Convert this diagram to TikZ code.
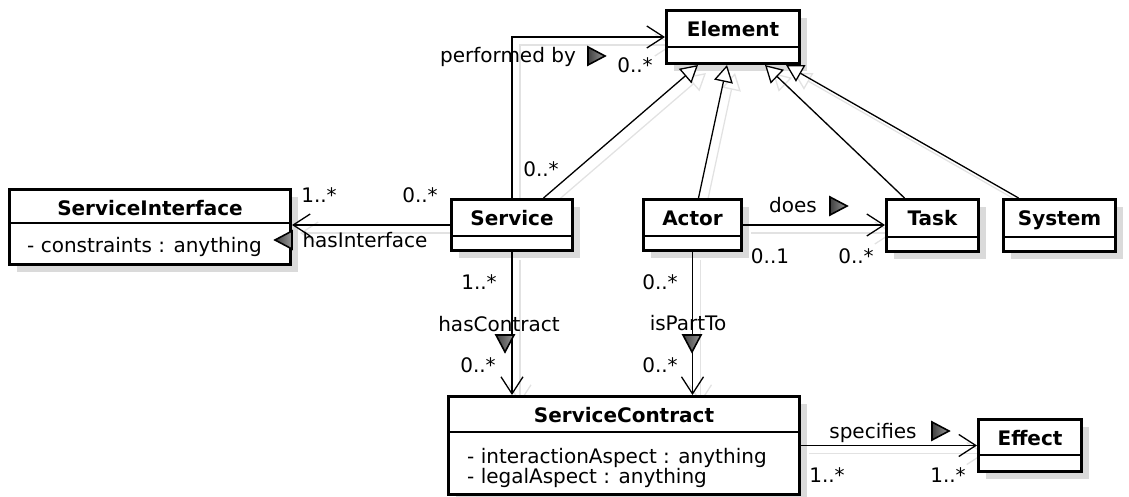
\documentclass[tikz,border=0pt]{standalone}
\usepackage{fontspec}
\setmainfont{DejaVu Sans}
\usetikzlibrary{arrows.meta,calc}
\pgfdeclarelayer{shadow}
\pgfsetlayers{shadow,main}

\definecolor{boxshade}{HTML}{DADADA}
\definecolor{lineshade}{HTML}{E2E2E2}

% class box: name, left, top, right, bottom, divider
\newcommand\umlclass[6]{%
  \begin{pgfonlayer}{shadow}
    \fill[boxshade] (#2+9,#3+9) rectangle (#4+9,#5+9);
  \end{pgfonlayer}
  \node[classbox, minimum width=#4-#2, minimum height=#5-#3] (#1) at (#2,#3) {};
  \draw[divider] (#2,#6) -- (#4,#6);
}
% reading-direction marks
\newcommand\dirright[2]{\shadedraw[dirmark] (#1-8,#2-9) -- (#1+9,#2) -- (#1-8,#2+9) -- cycle;}
\newcommand\dirleft[2]{\shadedraw[dirmark] (#1+8,#2-9) -- (#1-9,#2) -- (#1+8,#2+9) -- cycle;}
\newcommand\dirdown[2]{\shadedraw[dirmark] (#1-9,#2-8) -- (#1,#2+9) -- (#1+9,#2-8) -- cycle;}

\begin{document}
\begin{tikzpicture}[x=1pt,y=-1pt,
  txt/.style={font=\fontsize{20}{17}\selectfont, inner sep=0pt, anchor=base},
  cname/.style={font=\fontsize{20}{17}\selectfont\bfseries, inner sep=0pt, anchor=base},
  attr/.style={font=\fontsize{20}{17}\selectfont, inner sep=0pt, anchor=base west},
  classbox/.style={draw=black, line width=3pt, fill=white, anchor=north west, inner sep=0pt},
  divider/.style={line width=1.3pt},
  link/.style={line width=1.3pt, draw=black},
  shade/.style={line width=1.3pt, draw=lineshade},
  nav/.style={-{Straight Barb[length=17pt,width=22pt,line width=1.3pt]}},
  gen/.style={-{Triangle[open,length=17pt,width=19pt,line width=1.3pt,fill=white]}},
  dirmark/.style={draw=black, line width=1.6pt, left color=black!75, right color=black!40, line join=miter}
]
\useasboundingbox (0,0) rectangle (1129,497);

% ---------- classes ----------
\umlclass{element}{665}{9}{798}{62}{47}
\umlclass{iface}{8}{188}{289}{263}{223}
\umlclass{service}{450}{198}{571}{249}{236}
\umlclass{actor}{642}{198}{740}{249}{236}
\umlclass{task}{885}{198}{977}{250}{237}
\umlclass{system}{1002}{198}{1114}{250}{237}
\umlclass{contract}{447}{395}{798}{493}{432}
\umlclass{effect}{977}{418}{1080}{470}{455}

\node[cname] (elementT) at ($(element.north)+(0,28)$) {Element};
\node[cname] (ifaceT) at ($(iface.north)+(0,27)$) {ServiceInterface};
\node[attr] (ifaceA) at (27,252) {- constraints : anything};
\node[cname] (serviceT) at ($(service.north)+(0,27)$) {Service};
\node[cname] (actorT) at ($(actor.north)+(0,27)$) {Actor};
\node[cname] (taskT) at ($(task.north)+(0,27)$) {Task};
\node[cname] (systemT) at ($(system.north)+(0,27)$) {System};
\node[cname] (contractT) at ($(contract.north)+(0,27)$) {ServiceContract};
\node[attr] (contractA1) at (467,463) {- interactionAspect : anything};
\node[attr] (contractA2) at (467,483) {- legalAspect : anything};
\node[cname] (effectT) at ($(effect.north)+(0,27)$) {Effect};

% ---------- end points ----------
\coordinate (gS1) at ($(service.north)+(31.5,0)$);
\coordinate (gE1) at ($(element.south west)+(33,0)$);
\coordinate (gS2) at ($(actor.north)+(6,0)$);
\coordinate (gE2) at ($(element.south west)+(62,0)$);
\coordinate (gS3) at ($(task.north)+(-28,0)$);
\coordinate (gE3) at ($(element.south west)+(100,0)$);
\coordinate (gS4) at ($(system.north)+(-41,0)$);
\coordinate (gE4) at ($(element.south west)+(121,0)$);

% ---------- connector shadows ----------
\begin{pgfonlayer}{shadow}
  \draw[shade,nav] ($(service.north)+(8,8)$) |- ($(element.west)+(8,8)$);
  \draw[shade,nav] ($(service.west)+(8,8)$) -- ($(service.west -| iface.east)+(8,8)$);
  \draw[shade,nav] ($(service.south)+(8,8)$) -- ($(service.south |- contract.north)+(8,8)$);
  \draw[shade,nav] ($(actor.south)+(8,8)$) -- ($(actor.south |- contract.north)+(8,8)$);
  \draw[shade,nav] ($(actor.east)+(8,8)$) -- ($(actor.east -| task.west)+(8,8)$);
  \draw[shade,nav] ($(contract.east)+(8,8)$) -- ($(contract.east -| effect.west)+(8,8)$);
  \draw[shade,gen] ($(gS1)+(8,8)$) -- ($(gE1)+(8,8)$);
  \draw[shade,gen] ($(gS2)+(8,8)$) -- ($(gE2)+(8,8)$);
  \draw[shade,gen] ($(gS3)+(8,8)$) -- ($(gE3)+(8,8)$);
  \draw[shade,gen] ($(gS4)+(8,8)$) -- ($(gE4)+(8,8)$);
\end{pgfonlayer}

% ---------- generalizations ----------
\draw[link,gen] (gS1) -- (gE1);
\draw[link,gen] (gS2) -- (gE2);
\draw[link,gen] (gS3) -- (gE3);
\draw[link,gen] (gS4) -- (gE4);

% ---------- associations ----------
\draw[link,nav] (service.north) |- (element.west);
\draw[link,nav] (service.west) -- (service.west -| iface.east);
\draw[link,nav] (service.south) -- (service.south |- contract.north);
\draw[link,nav] (actor.south) -- (actor.south |- contract.north);
\draw[link,nav] (actor.east) -- (actor.east -| task.west);
\draw[link,nav] (contract.east) -- (contract.east -| effect.west);

% ---------- association labels ----------
\node[txt] (pbL) at (508,63) {performed by};
\dirright{596}{56}
\node[txt] (pbM1) at (541,177) {0..*};
\node[txt] (pbM2) at (635,73) {0..*};

\node[txt] (hiL) at (365,247) {hasInterface};
\dirleft{284}{240}
\node[txt] (hiM1) at (319,202) {1..*};
\node[txt] (hiM2) at (420,202) {0..*};

\node[txt] (hcL) at (499,331) {hasContract};
\dirdown{505}{343}
\node[txt] (hcM1) at (479,289) {1..*};
\node[txt] (hcM2) at (478,372) {0..*};

\node[txt] (ipL) at (688,330) {isPartTo};
\dirdown{692}{343}
\node[txt] (ipM1) at (660,289) {0..*};
\node[txt] (ipM2) at (660,372) {0..*};

\node[txt] (doL) at (793,212) {does};
\dirright{838}{206}
\node[txt] (doM1) at (770,263) {0..1};
\node[txt] (doM2) at (856,263) {0..*};

\node[txt] (spL) at (873,438) {specifies};
\dirright{940}{431}
\node[txt] (spM1) at (827,482) {1..*};
\node[txt] (spM2) at (948,482) {1..*};
\end{tikzpicture}
\end{document}
